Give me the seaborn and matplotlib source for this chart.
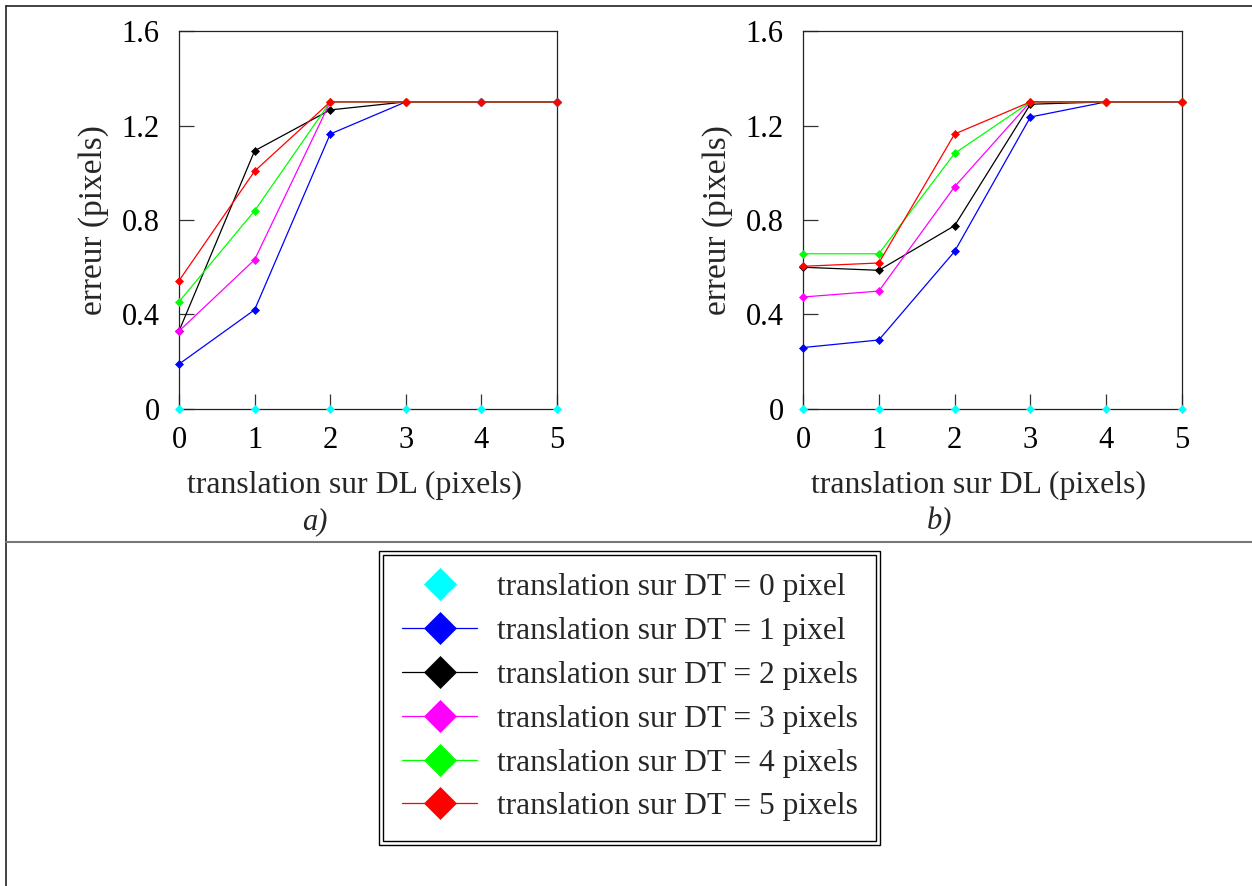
import numpy as np
import pandas as pd
import matplotlib
matplotlib.use("Agg")
import matplotlib.pyplot as plt
from matplotlib.lines import Line2D
from matplotlib.patches import Rectangle
import seaborn as sns

sns.set_style("white")
plt.rcParams['font.family'] = ['Liberation Serif', 'DejaVu Serif']

# translation sur DL (pixels)
dl = [0, 1, 2, 3, 4, 5]

labels = ["translation sur DT = 0 pixel",
          "translation sur DT = 1 pixel",
          "translation sur DT = 2 pixels",
          "translation sur DT = 3 pixels",
          "translation sur DT = 4 pixels",
          "translation sur DT = 5 pixels"]
colors = ["#00FFFF", "#0000FF", "#000000", "#FF00FF", "#00FF00", "#FF0000"]

# panel a)
err_a_dt0 = [0, 0, 0, 0, 0, 0]
err_a_dt1 = [0.19, 0.42, 1.164, 1.30, 1.30, 1.30]
err_a_dt2 = [0.33, 1.093, 1.266, 1.30, 1.30, 1.30]
err_a_dt3 = [0.33, 0.632, 1.30, 1.30, 1.30, 1.30]
err_a_dt4 = [0.454, 0.839, 1.30, 1.30, 1.30, 1.30]
err_a_dt5 = [0.543, 1.007, 1.30, 1.30, 1.30, 1.30]

# panel b)
err_b_dt0 = [0, 0, 0, 0, 0, 0]
err_b_dt1 = [0.26, 0.292, 0.667, 1.236, 1.30, 1.30]
err_b_dt2 = [0.60, 0.587, 0.776, 1.29, 1.30, 1.30]
err_b_dt3 = [0.474, 0.499, 0.941, 1.30, 1.30, 1.30]
err_b_dt4 = [0.657, 0.657, 1.082, 1.30, 1.30, 1.30]
err_b_dt5 = [0.604, 0.618, 1.164, 1.30, 1.30, 1.30]

series_a = [err_a_dt0, err_a_dt1, err_a_dt2, err_a_dt3, err_a_dt4, err_a_dt5]
series_b = [err_b_dt0, err_b_dt1, err_b_dt2, err_b_dt3, err_b_dt4, err_b_dt5]

fig = plt.figure(figsize=(12.52, 8.86), dpi=100)
ax1 = fig.add_axes([0.1430, 0.5384, 0.3019, 0.4266])
ax2 = fig.add_axes([0.6414, 0.5384, 0.3027, 0.4266])

FS = 22

def draw(ax, series, tag):
    for vals, col, lab in zip(series, colors, labels):
        lw = 0 if col == "#00FFFF" else 0.9
        sns.lineplot(x=dl, y=vals, ax=ax, color=col, marker="D", markersize=4,
                     markeredgecolor=col, markeredgewidth=0.5, linewidth=lw,
                     label=lab, clip_on=False, zorder=3)
    ax.set_xlim(0, 5)
    ax.set_ylim(0, 1.6)
    ax.set_xticks(dl)
    ax.set_xticklabels([str(v) for v in dl])
    ax.set_yticks([0, 0.4, 0.8, 1.2, 1.6])
    ax.set_yticklabels(["0", "0.4", "0.8", "1.2", "1.6"])
    ax.tick_params(axis="both", direction="in", length=11, width=0.9,
                   labelsize=FS, colors="#333333", labelcolor="black",
                   bottom=True, left=True, top=False, right=False)
    ax.tick_params(axis="y", pad=14)
    ax.tick_params(axis="x", pad=12)
    for s in ax.spines.values():
        s.set_visible(True)
        s.set_color("#222222")
        s.set_linewidth(0.9)
    ax.set_xlabel("translation sur DL (pixels)", fontsize=22.9, labelpad=12)
    ax.xaxis.label.set_x(0.463)
    ax.set_ylabel("erreur (pixels)", fontsize=24, labelpad=9)
    ax.text(0.36, -0.299, tag, transform=ax.transAxes, ha="center", va="center",
            fontsize=FS, style="italic")
    ax.get_legend().remove()

draw(ax1, series_a, "a)")
draw(ax2, series_b, "b)")

handles, labs = ax1.get_legend_handles_labels()
fig.legend(handles, labs, loc="upper left", bbox_to_anchor=(0.3211, 0.3533),
           bbox_transform=fig.transFigure, frameon=False, fontsize=22.7,
           markerscale=4.2, handlelength=2.38, handletextpad=0.63,
           labelspacing=0.47, borderpad=0, borderaxespad=0)

# double frame around the legend
fig.add_artist(Rectangle((0.3027, 0.0463), 0.4002, 0.3318, transform=fig.transFigure,
                         fill=False, edgecolor="black", linewidth=1.0))
fig.add_artist(Rectangle((0.3059, 0.0508), 0.3938, 0.3228, transform=fig.transFigure,
                         fill=False, edgecolor="black", linewidth=1.0))

# table-like frame lines
fig.add_artist(Line2D([0.0048, 1.0], [0.9932, 0.9932], transform=fig.transFigure,
                      color="#222222", linewidth=1.2))
fig.add_artist(Line2D([0.0048, 0.0048], [0.0, 0.9932], transform=fig.transFigure,
                      color="#222222", linewidth=1.2))
fig.add_artist(Line2D([0.0048, 1.0], [0.3883, 0.3883], transform=fig.transFigure,
                      color="#777777", linewidth=1.5))

fig.savefig("out.png", dpi=100)
